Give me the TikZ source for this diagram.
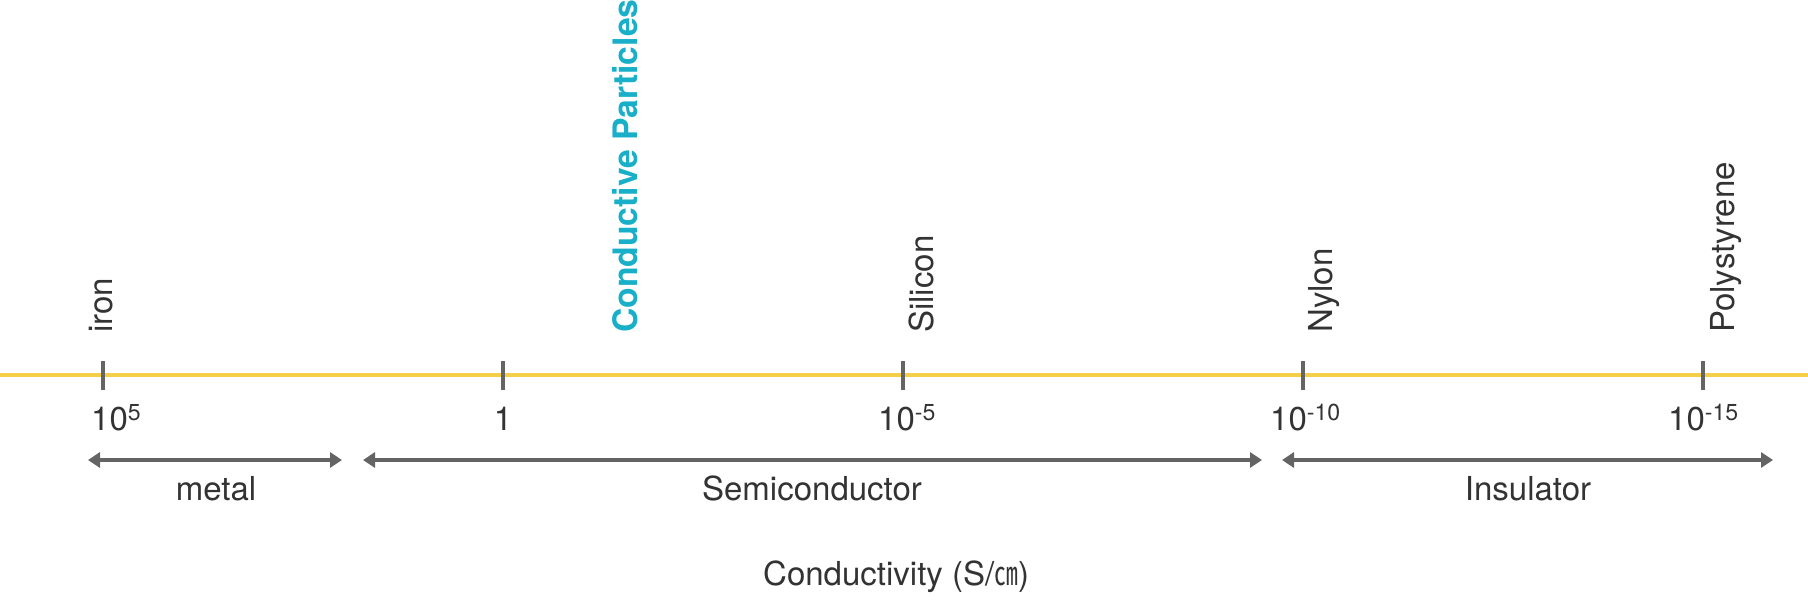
\documentclass[tikz,border=0pt]{standalone}
\usepackage{xcolor}
\usepackage{fontspec}
\usepackage{tikz}
\usetikzlibrary{arrows.meta}
\setmainfont{TeX Gyre Heros}
\newfontfamily\cjk{Noto Sans CJK KR}
\definecolor{axisyellow}{HTML}{F6CF4A}
\definecolor{tickgray}{HTML}{646464}
\definecolor{labeltext}{HTML}{333333}
\definecolor{particlecyan}{HTML}{1AAFC9}

\begin{document}
\begin{tikzpicture}[x=1pt,y=-1pt,font=\fontsize{33}{40}\selectfont,text=labeltext]
\useasboundingbox (0,0) rectangle (1808,600);

\tikzstyle{axistick}=[draw=tickgray,line width=3.5pt];
\tikzstyle{classarrow}=[draw=tickgray,line width=3.5pt,{Triangle[length=12pt,width=15pt]}-{Triangle[length=12pt,width=15pt]}];
\tikzstyle{material}=[rotate=90,anchor=base west,inner sep=0pt];
\tikzstyle{expvalue}=[anchor=base west,inner sep=0pt];

\coordinate (L) at (0,375);
\coordinate (R) at (1808,375);
\draw[axisyellow,line width=3.5pt] (L)--(R);

\coordinate (t1) at (103,375);
\coordinate (t2) at (503,375);
\coordinate (t3) at (903,375);
\coordinate (t4) at (1303,375);
\coordinate (t5) at (1703,375);
\draw[axistick] ([yshift=14pt]t1)--([yshift=-15pt]t1);
\draw[axistick] ([yshift=14pt]t2)--([yshift=-15pt]t2);
\draw[axistick] ([yshift=14pt]t3)--([yshift=-15pt]t3);
\draw[axistick] ([yshift=14pt]t4)--([yshift=-15pt]t4);
\draw[axistick] ([yshift=14pt]t5)--([yshift=-15pt]t5);

\node[expvalue] (v5) at (91,430) {10\textsuperscript{5}};
\node[expvalue,anchor=base] (v0) at (503,430) {1};
\node[expvalue] (vm5) at (878,430) {10\textsuperscript{-5}};
\node[expvalue] (vm10) at (1270,430) {10\textsuperscript{-10}};
\node[expvalue] (vm15) at (1668,430) {10\textsuperscript{-15}};

\node[material] (iron) at (112,333) {iron};
\node[material,text=particlecyan,font=\fontsize{33.7}{40}\selectfont\bfseries] (particles) at (637,333) {Conductive Particles};
\node[material] (silicon) at (933,333) {Silicon};
\node[material] (nylon) at (1332,333) {Nylon};
\node[material] (polystyrene) at (1734,333) {Polystyrene};

\coordinate (m1) at (88,460);
\coordinate (m2) at (342,460);
\coordinate (s1) at (363,460);
\coordinate (s2) at (1262,460);
\coordinate (i1) at (1282,460);
\coordinate (i2) at (1773,460);
\draw[classarrow] (m1)--(m2);
\draw[classarrow] (s1)--(s2);
\draw[classarrow] (i1)--(i2);

\node[anchor=base,inner sep=0pt] (metal) at (216,500) {metal};
\node[anchor=base,inner sep=0pt] (semi) at (812,500) {Semiconductor};
\node[anchor=base,inner sep=0pt] (insulator) at (1528,500) {Insulator};

\node[anchor=base west,inner sep=0pt] (cond) at (763,585) {Conductivity (S/\scalebox{0.72}[1]{\cjk ㎝})};
\end{tikzpicture}
\end{document}
